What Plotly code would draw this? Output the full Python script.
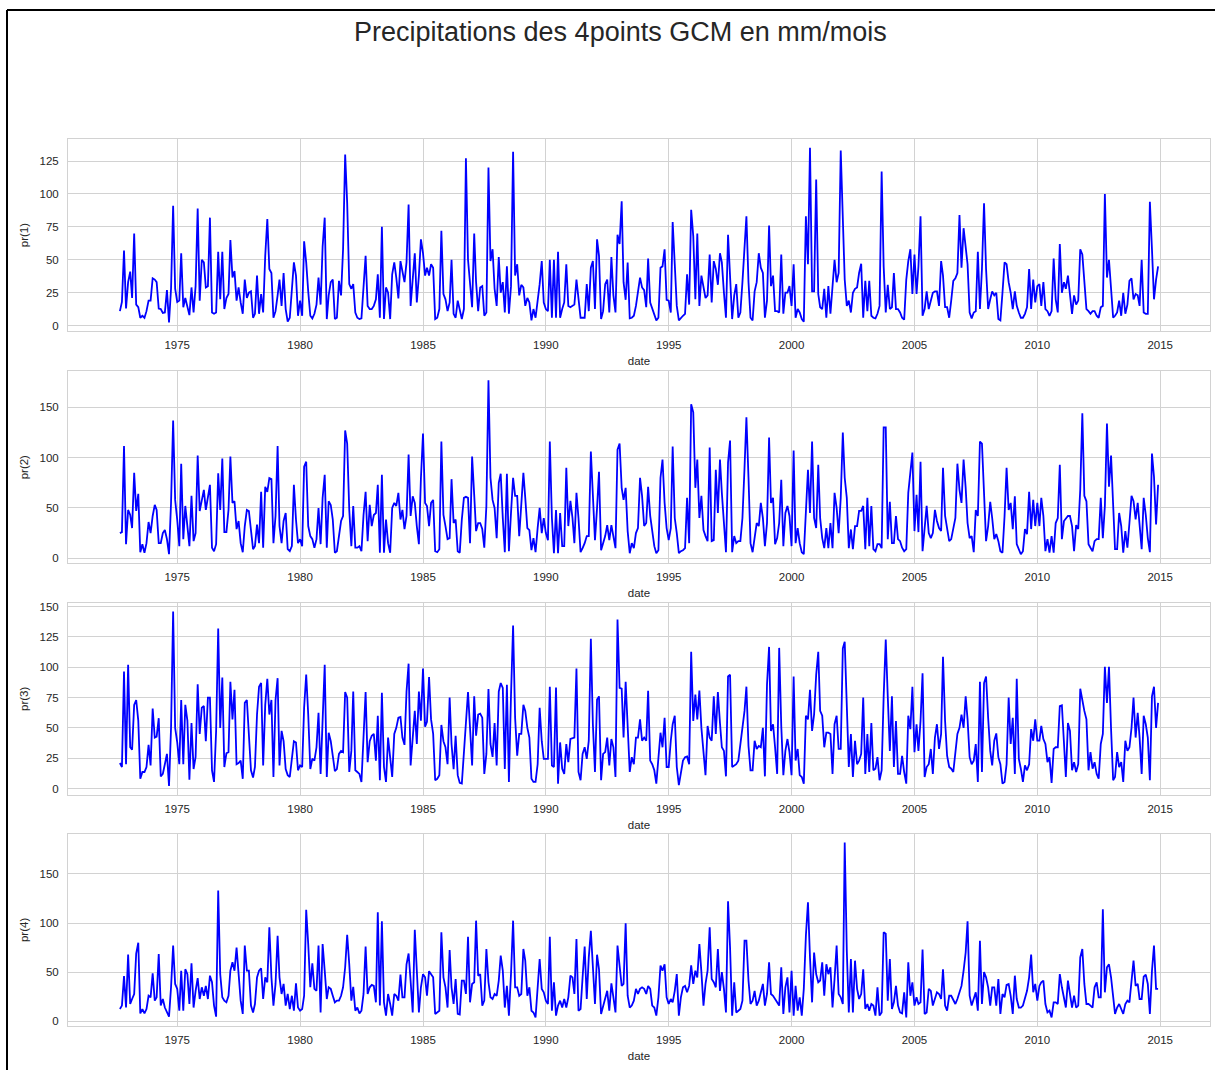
import pandas as pd
import plotly.graph_objects as go

# Monthly precipitation (mm/month) at the four GCM grid points, Sep 1972 - Dec 2014
start_month = "1972-09-01"

pr1 = [
    11, 18, 57, 13,
    33, 41, 21, 70, 16, 14, 6, 7.5, 6, 11, 19, 19,
    36, 35, 33, 13, 12.6, 9.6, 10, 27, 2.5, 28, 91, 28,
    18, 19, 55, 14, 21, 15, 8, 29, 10, 30, 89, 19,
    50, 48, 29, 30, 82, 10, 9, 10, 56, 20, 56, 12.6,
    21, 24, 65, 36.5, 41.5, 19, 29, 17.6, 9, 35, 21, 25,
    26, 6, 9, 38, 9, 24, 10, 53, 81, 43, 40, 6,
    11, 23, 35, 15, 40, 12.6, 3, 6, 28, 48, 38, 7.5,
    19, 7.5, 64, 48, 26, 7.5, 5.5, 9, 16, 36.5, 16, 60,
    82, 5, 23, 33, 35, 5, 6, 34, 23, 58, 130, 93,
    31.5, 28, 31.5, 10, 6, 5, 5.5, 28, 53, 15, 12.6, 12.6,
    15, 20, 39, 6, 75, 5, 29, 25, 5, 39, 48, 36.5,
    20.6, 49, 40, 33, 48, 92, 15, 33, 55, 17.6, 38, 65.5,
    55, 38, 44, 38, 46.6, 44, 5, 6, 12.6, 72, 24, 20,
    11, 17.6, 50, 9, 6, 19, 11, 5, 12.6, 127, 50, 33,
    14, 70, 33, 11, 29, 30, 7.5, 10, 120, 49, 58, 28,
    15, 52, 25, 33, 10, 45, 9, 30, 132, 38, 46.6, 23,
    31, 29, 15, 21, 17.6, 4, 12.6, 6, 17.6, 31.5, 49, 17.6,
    12.6, 11, 50, 6, 50, 6, 56, 6, 12.6, 17.6, 46.6, 15,
    14, 15, 16, 35, 20, 6, 6, 6, 31.5, 11, 44, 49,
    12.6, 65.5, 53, 5, 11, 31.5, 35, 10, 52, 23, 10, 69,
    62, 94.5, 33, 19.6, 48, 5.5, 6, 7.5, 15, 25, 36.5, 29,
    27, 14, 51, 17.6, 12.6, 9, 4, 6, 44, 45, 58, 19.6,
    19, 10, 78.6, 46.6, 15, 4, 6, 7.5, 9, 39, 16, 88,
    68, 20, 70, 15, 38, 29, 21, 23, 54, 17.6, 49, 43,
    31, 55, 48, 25, 6, 69, 33, 5, 23, 31.5, 6, 10,
    33, 60, 83, 33, 6, 4, 26, 33, 55, 44, 40, 6,
    19, 76, 30, 38, 11, 11, 10, 54, 9, 25, 25, 30,
    15, 46.6, 6, 12.6, 10, 5, 3, 83, 46.6, 135, 26, 26,
    111, 24, 14, 12.6, 28, 6, 30, 9, 28, 50, 33, 40,
    133, 70, 35, 15, 19, 10, 25, 28, 29, 40, 47, 6,
    34, 11, 34, 7.5, 6, 5.5, 9, 15, 117, 45, 10, 31,
    12.6, 14, 40, 12.6, 12.6, 10, 6, 4.5, 35, 49, 58, 24,
    54, 24, 45, 83, 7.5, 12.6, 26, 12.6, 20, 25, 26, 26,
    15, 49, 38, 14, 14, 6, 19, 34, 36, 40, 84, 44,
    74, 58, 46.6, 10, 5.5, 10, 11, 56, 12.6, 43, 93, 43,
    12.6, 20, 26, 23, 25, 5, 4, 25, 48, 46.6, 33, 25,
    12.6, 26, 15, 10, 6, 6, 9, 14, 43, 12.6, 35, 17.6,
    30, 31.5, 15, 33, 12.6, 11, 7.5, 11, 51, 20, 10, 62,
    25, 33, 28, 38, 24, 9, 23, 16, 19, 58, 54, 35,
    12.6, 11, 9, 11, 11, 7.5, 6, 14, 15, 100, 36.5, 50,
    28, 6, 7.5, 10, 19, 7.5, 25, 9, 16, 34, 36, 20,
    24, 23, 15, 50, 10, 9, 9, 94, 58, 20, 35, 45,
]

pr2 = [
    25, 26, 111.5, 14,
    48, 43, 30, 85, 47, 64, 6, 14, 5.5, 15, 36, 25,
    42, 53, 48, 15, 15, 25, 28, 19, 4, 55, 137, 58,
    38, 12, 94, 19, 52, 29, 12, 62, 17, 25, 102, 47,
    58, 68, 48, 62, 73, 10.5, 7, 14, 84.5, 48, 99, 26,
    26, 48, 101, 55, 56.6, 29, 37, 15, 6, 32, 48, 47,
    27, 9, 12, 33.5, 15, 66, 10.5, 71, 66, 79.6, 78.6, 15,
    42, 111.5, 32, 15, 37, 45, 9, 7, 12, 73, 38.5, 15,
    19, 12, 91, 96, 32, 22, 19, 10.5, 19, 50, 14, 60,
    83, 10.5, 56.6, 53, 38.5, 5.5, 7, 20, 37, 42, 127, 114,
    48, 12, 52, 10.5, 10.5, 12, 7, 43, 66, 17, 53, 32,
    43, 45, 73, 5.5, 83, 5.5, 38.5, 15, 5.5, 50, 55, 52,
    65, 38.5, 48, 29, 42, 103, 42, 61.5, 55, 32, 14, 79.6,
    124, 55, 52, 32, 55, 58, 7, 6, 9, 116, 43, 32,
    19, 20, 78.6, 35, 38.5, 7, 5.5, 38.5, 60, 61, 60, 15,
    101, 63, 27, 35, 35, 29, 10.5, 52, 177, 80, 58, 50,
    20, 75, 84, 40, 6, 84, 7, 45, 80, 62, 62, 22,
    60, 85, 60, 30, 28, 8, 20, 6, 30, 50, 25, 40,
    25, 18, 116, 40, 5, 48, 5, 45, 12, 12, 90, 32,
    57, 40, 15, 65, 40, 6, 10, 15, 22, 22, 106, 55,
    18, 50, 86, 8, 15, 22, 33, 18, 33, 22, 10, 108,
    114, 70, 58, 70, 27, 5, 15, 10, 25, 30, 80, 62,
    32, 35, 71, 42, 25, 12, 5, 8, 80, 98, 55, 30,
    18, 30, 111, 40, 25, 5, 7, 8, 10, 60, 15, 153,
    145, 70, 98, 40, 62, 28, 22, 17, 110, 17, 18, 88,
    45, 98, 65, 38, 6, 95, 117, 6, 22, 15, 17, 17,
    40, 90, 140, 80, 15, 6, 20, 35, 32, 55, 40, 12,
    35, 120, 55, 60, 14, 20, 35, 78, 12, 45, 52, 42,
    12, 107, 15, 30, 15, 6, 4, 40, 88, 45, 116, 40,
    30, 93, 40, 20, 10, 30, 10, 35, 10, 65, 50, 25,
    60, 125, 80, 60, 10, 28.6, 9, 32, 32, 47, 47, 52,
    9, 60, 12, 52, 9, 7, 14, 14, 10, 130, 130, 19,
    56, 15, 15, 42, 19, 17, 10.5, 7, 9, 65, 84.5, 105,
    27, 63, 26, 96, 7, 32, 52, 25, 20, 25, 48, 37,
    30, 27, 90, 42, 29, 17, 19, 30, 40, 94, 68, 55,
    98, 70, 35, 20, 22, 6, 48, 42, 116, 114, 61.5, 17,
    32, 56, 40, 19, 24, 17, 7, 5.5, 42, 90, 48, 55,
    29, 61.5, 14, 9, 4, 7, 29, 24, 66, 29, 58, 32,
    55, 32, 60, 42, 7, 19, 5.5, 22, 5.5, 35, 40, 93,
    19, 37, 40, 42, 42, 32, 7, 33, 29, 68, 144, 62,
    56.6, 14, 10.5, 7, 17, 19, 19, 60, 20, 52, 134, 71,
    102, 45, 9, 9, 45, 32, 5.5, 27, 10.5, 35, 62, 56.6,
    38.5, 55, 33.5, 9, 60, 43, 20, 6, 104, 81, 33.5, 73,
]

pr3 = [
    21, 17.7, 96.5, 20,
    102, 34, 32, 69, 73, 56, 8, 13.6, 13.6, 17.7, 36, 19,
    66, 42, 42.7, 58, 10, 12, 20, 28.5, 2, 50, 146, 50,
    38, 20, 73, 20, 69, 56, 7.3, 54, 16, 26, 86, 45,
    66.6, 68, 39, 75, 75, 15, 5.4, 47.5, 132, 50, 91.6, 17.7,
    29, 30, 88, 57, 81.5, 20, 21, 23, 8, 70.6, 73, 39,
    15, 9, 17.7, 61, 84, 87, 19, 69, 90.5, 61, 73, 9.5,
    73, 91, 19, 47.5, 39, 16, 11, 9.5, 23, 39, 38, 15,
    19, 17.7, 66.6, 94, 61, 16, 24.5, 23, 34, 62.5, 12, 61,
    102, 9.5, 46, 39, 26, 14.4, 16, 28.5, 31, 30, 79.6, 75,
    13.6, 31, 80, 15, 13.6, 12, 5.4, 45, 79.6, 21.7, 39, 43.5,
    45, 23, 60, 6.8, 79, 17.7, 5.4, 42, 23, 9.5, 45, 50,
    58.4, 59, 42, 36, 80, 103, 19, 39, 64, 36.7, 80, 56,
    99, 51, 55, 92, 57, 45, 6.8, 8, 11, 52.4, 39, 34,
    20, 75, 36.7, 16, 43.5, 11, 4.6, 4, 31, 47.5, 79.6, 50,
    19, 76, 43.5, 61, 61.7, 58.4, 12, 28.5, 82, 36.7, 26, 54,
    19, 80, 87, 83, 16, 85.6, 5.4, 77, 134.5, 58.4, 27, 45,
    45, 69, 64, 50, 42, 8, 5.4, 5.4, 20, 66.6, 39, 24.5,
    24.5, 24.5, 84, 19, 17.7, 83.4, 4, 38, 16.3, 12, 36.7, 21.7,
    40.8, 41.6, 42, 99, 13.6, 6.8, 28.5, 34, 24.5, 39.4, 123.6, 53,
    13.6, 73.4, 76, 6.8, 28.5, 30, 42, 19, 40.8, 34, 9.5, 139.4,
    83, 82.3, 42, 88, 53, 13.6, 25.8, 20, 42, 42, 57, 39.4,
    42, 39.4, 80.7, 23, 20, 15, 4, 28.5, 46, 34, 58.4, 17.7,
    17.7, 39.4, 53, 60, 17.7, 2.7, 12, 23, 25.8, 26.4, 20, 112.8,
    55.7, 77.4, 57, 80.7, 50, 25.8, 11, 51.6, 42, 39.4, 76, 45,
    79.6, 54, 34, 31, 10, 92.4, 93.8, 17.7, 19, 20, 23, 36.7,
    47.5, 64, 84, 35, 15, 15, 39.4, 32.6, 35, 34, 50, 10,
    85.6, 116.8, 47.5, 53, 34, 12, 116, 51.6, 11, 31, 40.8, 30,
    11, 92.4, 23, 32.6, 11, 9.5, 4, 60, 57, 81.5, 47.5, 61,
    93.8, 112.8, 64, 60, 34, 46, 46, 45, 12, 53, 60, 32.6,
    32.6, 115.5, 121, 72, 17.7, 45, 9.5, 39.4, 20, 23, 28.5, 75,
    12, 45, 13.6, 54, 15, 16.3, 25.8, 6.8, 15, 76, 123, 76,
    31, 76, 17.7, 55.7, 12, 12, 27, 13.6, 4, 60, 49, 84,
    30, 53, 31, 55.7, 95, 9.5, 17.7, 20, 32.6, 12, 42, 53,
    32.6, 45, 108.7, 55.7, 27, 17.7, 16.3, 13.6, 28.5, 45, 50, 61,
    50, 76, 57, 25.8, 20, 23, 36.7, 5.4, 88, 13.6, 87, 92.4,
    58.4, 31, 19, 39.4, 45.4, 25.8, 20, 4, 5.4, 20, 75, 36.7,
    58.4, 12, 90.5, 24.5, 16.3, 5.4, 19, 15, 20, 49, 39.4, 57,
    39.4, 39.4, 51.6, 40.8, 36.7, 21.7, 25.8, 4.6, 32.6, 34, 34, 68,
    68.7, 34, 9.5, 54, 47.5, 15, 21.7, 13.6, 20, 82.3, 72, 64,
    57, 15, 30, 16.3, 21.7, 12, 8, 36.7, 45, 100.5, 70.6, 100.5,
    49, 6.8, 9.5, 30, 17.7, 21.7, 5.4, 39.4, 31, 34, 50, 75,
    42, 62.5, 42, 12, 60, 53, 42, 6.8, 76, 84, 50, 70.6,
]

pr4 = [
    12.5, 16, 46, 14,
    68, 17.6, 22.7, 27.8, 69, 80, 8, 12.5, 8, 12.5, 26, 24.4,
    48.8, 21, 24.4, 68.5, 16, 22.7, 14, 9, 4.7, 34.6, 77, 38,
    33, 10.8, 51.5, 10.8, 53, 48, 17.6, 59, 14, 31, 44, 22.7,
    34.6, 26, 36, 22.7, 46.4, 39.7, 16, 4.7, 133, 48, 24.4, 21,
    19.3, 26, 51.5, 60, 51.5, 75, 43, 21, 7.5, 77, 51.5, 51.5,
    16, 9, 17.6, 44.7, 51.5, 54, 22.7, 44.7, 39.7, 95.6, 44.7, 16,
    38, 87, 44.7, 27.8, 38, 16, 27.8, 12.5, 26, 10.8, 38.6, 14,
    10.8, 12.5, 26, 113.5, 78.6, 34.6, 59, 33, 31, 77, 9, 78.6,
    51.5, 22.7, 34.6, 33, 26, 19.3, 21, 21, 26, 34.6, 55, 88,
    58, 21, 35, 10.8, 14, 8, 10.8, 27.8, 76, 27.8, 34.6, 37,
    36, 19.3, 111, 16, 101.7, 19.3, 5.8, 27.8, 17.6, 5.8, 27.8, 26,
    21, 47.5, 24.4, 24.4, 58, 69, 41, 9, 93, 44.7, 9, 34.6,
    48, 44.7, 26, 51, 48, 44.7, 7.5, 9, 10.8, 90.5, 44.7, 34.6,
    14, 72.5, 34.6, 17.6, 43, 7.5, 6.8, 41.4, 41.4, 27.8, 86, 19.3,
    38, 39.7, 102.4, 46.4, 48, 16, 21, 73.6, 40, 24.4, 22.7, 27.8,
    26, 41.4, 66.8, 51.5, 14, 36, 5.8, 48, 102.4, 34.6, 34.6, 26,
    27.8, 73.6, 61.7, 26, 34.6, 10.8, 9, 4, 31, 63.4, 33, 29.5,
    21, 17.6, 86, 10.8, 39.7, 5.8, 16, 21, 14, 22.7, 14, 24.4,
    46.4, 44.7, 27.8, 83.7, 10.8, 12.5, 44.7, 76, 22.7, 65, 92, 51.5,
    17.6, 67.8, 53, 7.5, 16, 22.7, 31, 10.8, 38.6, 24.4, 9, 77,
    58, 36, 38, 99.7, 26, 14, 16, 21, 33, 27.8, 33, 34.6,
    33, 27.8, 36, 33, 16, 14, 5.8, 24.4, 56.6, 51.5, 58, 24.4,
    17.6, 22.7, 19.3, 31, 48, 5.8, 24.4, 34.6, 36, 29.5, 36, 57,
    38, 51.5, 44.7, 78.6, 50, 16, 38, 51.5, 95.6, 43, 39.7, 34.6,
    73.6, 31, 50, 33, 9, 122, 75, 5.8, 39.7, 9, 10.8, 12.5,
    21, 82, 82, 41.4, 17.6, 21, 31, 16, 21, 31, 38, 16,
    27.8, 60, 27.8, 26, 22.7, 19.3, 16, 55, 7.5, 34.6, 44.7, 9,
    51.5, 5.8, 36, 10.8, 24.4, 5.8, 33, 87, 121, 65, 19.3, 70,
    48, 39.7, 41.4, 60, 26, 58, 48, 55, 14, 43, 77, 27.8,
    24.4, 17.6, 182, 72, 9, 63.4, 9, 61.7, 33, 22.7, 27.8, 53,
    12.5, 17.6, 10.8, 17.6, 16, 5.8, 34.6, 5.8, 9, 90.5, 89, 21,
    63.4, 12.5, 19.3, 36, 16, 9, 8, 29.5, 4, 60, 26, 39.7,
    16, 24.4, 17.6, 19.3, 73, 7.5, 9, 33, 31, 16, 22.7, 29.5,
    27.8, 22.7, 53, 16, 10.8, 26, 26, 21, 17.6, 22.7, 31, 36,
    51.5, 70, 101.7, 26, 16, 24.4, 29.5, 10.8, 82, 17.6, 50, 44.7,
    34.6, 16, 34.6, 34.6, 16, 43, 7.5, 27.8, 24.4, 37, 38, 26,
    7.5, 46.4, 22.7, 14, 14, 16, 22.7, 31, 44.7, 67.8, 29.5, 38,
    21, 36, 39.7, 41.4, 17.6, 9, 10.8, 4, 19.3, 19.3, 17.6, 48,
    34.6, 22.7, 14, 41.4, 27.8, 14, 26, 14, 16, 65, 73.6, 38,
    17.6, 17.6, 16, 14, 34.6, 39.7, 24.4, 24.4, 114, 29.5, 55, 58,
    44.7, 21, 7.5, 14, 17.6, 12.5, 7.5, 17.6, 21, 19.3, 38, 61.7,
    36, 38, 22.7, 22.7, 45.4, 47.5, 38, 7.5, 51.5, 77, 33, 33,
]

series = [pr1, pr2, pr3, pr4]
series_names = ["pr(1)", "pr(2)", "pr(3)", "pr(4)"]
y_steps = [25, 50, 25, 50]
tick_years = [1975, 1980, 1985, 1990, 1995, 2000, 2005, 2010, 2015]
title_text = "Precipitations des 4points GCM en mm/mois"

# ---- page geometry (pixels) ----
W, H = 1215, 1071
left_px, right_px = 68, 1210
rows_px = [(137.5, 330), (370.5, 562.5), (602.5, 795), (834, 1027)]

FONT = "Liberation Sans, Arial, DejaVu Sans, sans-serif"
TEXT = "#262626"
GRID = "#d2d2d2"

fig = go.Figure()
layout = dict(
    width=W, height=H, autosize=False,
    margin=dict(l=0, r=0, t=0, b=0),
    paper_bgcolor="white", plot_bgcolor="white",
    showlegend=False,
    font=dict(family=FONT, color=TEXT, size=11.5),
)

tick_dates = [pd.Timestamp(f"{y}-01-01") for y in tick_years]
tick_text = [str(y) for y in tick_years]

for k, (vals, name, step) in enumerate(zip(series, series_names, y_steps)):
    n = k + 1
    dates = pd.date_range(start_month, periods=len(vals), freq="MS")
    span = dates[-1] - dates[0]
    x_lo, x_hi = dates[0] - span * 0.05, dates[-1] + span * 0.05
    v_lo, v_hi = min(vals), max(vals)
    pad = (v_hi - v_lo) * 0.05

    xa = "x" if n == 1 else f"x{n}"
    ya = "y" if n == 1 else f"y{n}"
    fig.add_trace(go.Scatter(
        x=dates, y=vals, mode="lines", name=name,
        line=dict(color="#0000ff", width=1.8),
        xaxis=xa, yaxis=ya, hoverinfo="x+y",
    ))

    top, bot = rows_px[k]
    layout[f"xaxis{'' if n == 1 else n}"] = dict(
        domain=[left_px / W, right_px / W],
        anchor=ya, type="date",
        range=[x_lo, x_hi],
        tickmode="array", tickvals=tick_dates, ticktext=tick_text,
        ticks="outside", ticklen=3, tickcolor="rgba(0,0,0,0)",
        showgrid=True, gridcolor=GRID, gridwidth=1,
        showline=True, linecolor=GRID, linewidth=1, mirror=True,
        zeroline=False,
        tickfont=dict(size=11.5, color=TEXT),
        title=dict(text="date", font=dict(size=11.5, color=TEXT), standoff=7),
    )
    layout[f"yaxis{'' if n == 1 else n}"] = dict(
        domain=[1 - bot / H, 1 - top / H],
        anchor=xa,
        range=[v_lo - pad, v_hi + pad],
        tick0=0, dtick=step,
        ticks="outside", ticklen=6, tickcolor="rgba(0,0,0,0)",
        showgrid=True, gridcolor=GRID, gridwidth=1,
        showline=True, linecolor=GRID, linewidth=1, mirror=True,
        zeroline=False,
        tickfont=dict(size=11.5, color=TEXT),
        title=dict(text=name, font=dict(size=11.5, color=TEXT), standoff=8),
    )

layout["annotations"] = [dict(
    text=title_text, xref="paper", yref="paper",
    x=620.5 / W, y=1 - 30 / H, xanchor="center", yanchor="middle",
    showarrow=False, font=dict(family=FONT, size=27, color=TEXT),
)]

# dark frame along the top and left edges of the page
layout["shapes"] = [
    dict(type="line", xref="paper", yref="paper",
         x0=7 / W, x1=1, y0=1 - 8 / H, y1=1 - 8 / H,
         line=dict(color="black", width=2)),
    dict(type="line", xref="paper", yref="paper",
         x0=7 / W, x1=7 / W, y0=0, y1=1 - 8 / H,
         line=dict(color="black", width=2)),
]

fig.update_layout(**layout)
fig.write_html("out.html")
